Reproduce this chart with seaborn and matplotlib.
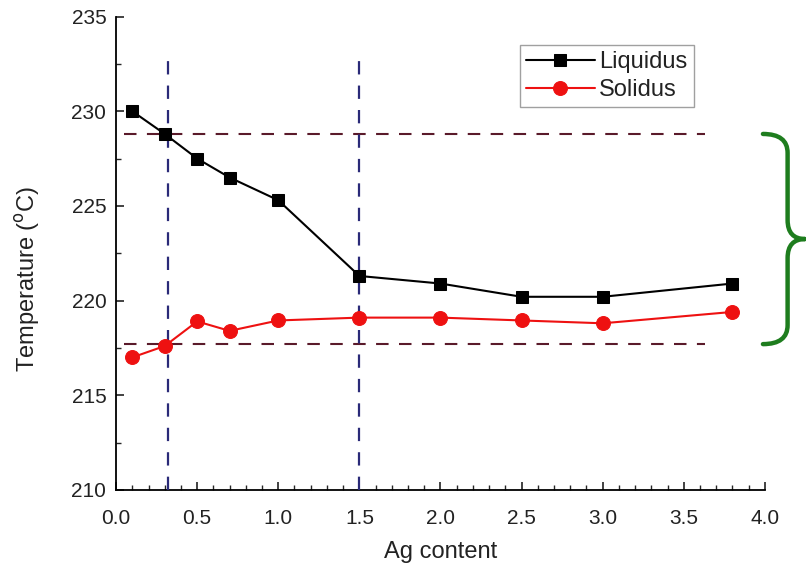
import numpy as np
import pandas as pd
import matplotlib
matplotlib.use("Agg")
import matplotlib.pyplot as plt
import seaborn as sns
from matplotlib.path import Path
from matplotlib.patches import PathPatch
from matplotlib.transforms import blended_transform_factory
from matplotlib.ticker import MultipleLocator

# Ag content (wt.%) and measured transition temperatures
ag_content = [0.1, 0.3, 0.5, 0.7, 1.0, 1.5, 2.0, 2.5, 3.0, 3.8]
liquidus = [230.0, 228.8, 227.5, 226.5, 225.3, 221.3, 220.9, 220.2, 220.2, 220.9]
solidus = [217.0, 217.6, 218.9, 218.4, 218.95, 219.1, 219.1, 218.95, 218.8, 219.4]

# Reference guide levels
upper_level = 228.8
lower_level = 217.7
guide_x = [0.32, 1.5]
guide_top = 233.1

sns.set_theme(style="ticks")
plt.rcParams["font.family"] = ["Liberation Sans", "DejaVu Sans"]

df = pd.DataFrame({
    "Ag": ag_content * 2,
    "T": liquidus + solidus,
    "phase": ["Liquidus"] * len(ag_content) + ["Solidus"] * len(ag_content),
})

fig = plt.figure(figsize=(8.06, 5.71), dpi=100)
ax = fig.add_axes([0.144, 0.142, 0.805, 0.829])

sns.lineplot(data=df[df.phase == "Liquidus"], x="Ag", y="T", color="black",
             marker="s", markersize=9, markeredgecolor="black", linewidth=1.5,
             label="Liquidus", ax=ax, zorder=4)
sns.lineplot(data=df[df.phase == "Solidus"], x="Ag", y="T", color="#ee1111",
             marker="o", markersize=10, markeredgecolor="#ee1111", linewidth=1.5,
             label="Solidus", ax=ax, zorder=4)

# dashed guide lines
ax.plot([0.05, 3.63], [upper_level, upper_level], color="#5a1a2a",
        linestyle=(0, (6, 5)), linewidth=1.5, zorder=3)
ax.plot([0.05, 3.63], [lower_level, lower_level], color="#5a1a2a",
        linestyle=(0, (6, 5)), linewidth=1.5, zorder=3)
for gx in guide_x:
    ax.plot([gx, gx], [210, guide_top], color="#2a2a78",
            linestyle=(0, (6, 5)), linewidth=1.6, zorder=3)

ax.set_xlim(0, 4.0)
ax.set_ylim(210, 235)
ax.xaxis.set_major_locator(MultipleLocator(0.5))
ax.xaxis.set_minor_locator(MultipleLocator(0.1))
ax.yaxis.set_major_locator(MultipleLocator(5))
ax.yaxis.set_minor_locator(MultipleLocator(2.5))
ax.tick_params(axis="both", which="major", direction="in", length=6,
               width=1.2, labelsize=15, colors="#222222")
ax.tick_params(axis="x", which="major", pad=14)
ax.tick_params(axis="y", which="major", pad=7)
ax.tick_params(axis="both", which="minor", direction="in", length=3.5, width=1.0)
ax.set_xticklabels([f"{v:.1f}" for v in ax.get_xticks()])
ax.set_yticklabels([f"{int(v)}" for v in ax.get_yticks()])

for side in ["top", "right"]:
    ax.spines[side].set_visible(False)
for side in ["left", "bottom"]:
    ax.spines[side].set_linewidth(1.3)
    ax.spines[side].set_color("black")

ax.set_xlabel("Ag content", fontsize=17, labelpad=9, color="#222222")
ax.set_ylabel("Temperature ($^{\\rm o}$C)", fontsize=17, color="#222222")
ax.yaxis.set_label_coords(-0.114, 0.445)

leg = ax.legend(loc="upper right", bbox_to_anchor=(0.89, 0.94), fontsize=17,
                frameon=True, fancybox=False, edgecolor="#888888",
                handlelength=2.9, handletextpad=0.2, borderpad=0.25,
                labelspacing=0.25, borderaxespad=0)
leg.get_frame().set_linewidth(1.0)
for t in leg.get_texts():
    t.set_color("#222222")

# curly brace spanning the two guide levels
trans = blended_transform_factory(ax.transAxes, ax.transData)
mid = (upper_level + lower_level) / 2
x0, x1, x2 = 0.997, 1.035, 1.062
r = 1.0
verts = [
    (x0, upper_level), (x1, upper_level), (x1, upper_level - r),
    (x1, mid + r),
    (x1, mid), (x2, mid),
    (x1, mid), (x1, mid - r),
    (x1, lower_level + r),
    (x1, lower_level), (x0, lower_level),
]
codes = [Path.MOVETO, Path.CURVE3, Path.CURVE3,
         Path.LINETO,
         Path.CURVE3, Path.CURVE3,
         Path.CURVE3, Path.CURVE3,
         Path.LINETO,
         Path.CURVE3, Path.CURVE3]
brace = PathPatch(Path(verts, codes), facecolor="none", edgecolor="#1e7d1e",
                  linewidth=3.2, transform=trans, clip_on=False,
                  capstyle="round", joinstyle="round")
ax.add_patch(brace)

fig.savefig("out.png", dpi=100)
